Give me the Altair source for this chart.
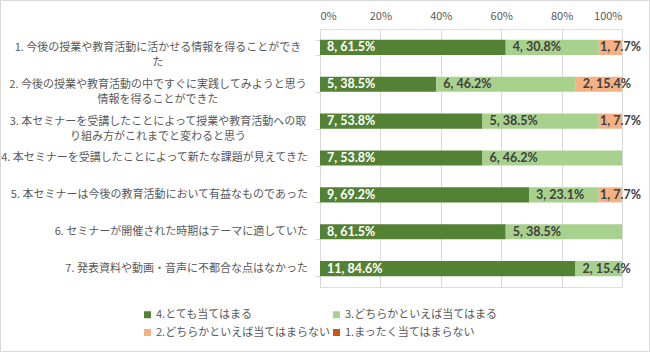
import altair as alt
import pandas as pd

q_ids = ["Q1", "Q2", "Q3", "Q4", "Q5", "Q6", "Q7"]
q_labels = [
    "1. 今後の授業や教育活動に活かせる情報を得ることができ\nた",
    "2. 今後の授業や教育活動の中ですぐに実践してみようと思う\n情報を得ることができた",
    "3. 本セミナーを受講したことによって授業や教育活動への取\nり組み方がこれまでと変わると思う",
    "4. 本セミナーを受講したことによって新たな課題が見えてきた",
    "5. 本セミナーは今後の教育活動において有益なものであった",
    "6. セミナーが開催された時期はテーマに適していた",
    "7. 発表資料や動画・音声に不都合な点はなかった",
]
categories = [
    "4.とても当てはまる",
    "3.どちらかといえば当てはまる",
    "2.どちらかといえば当てはまらない",
    "1.まったく当てはまらない",
]
colors = ["#548235", "#A9D18E", "#F4B183", "#C55A11"]

counts_4 = [8, 5, 7, 7, 9, 8, 11]
counts_3 = [4, 6, 5, 6, 3, 5, 2]
counts_2 = [1, 2, 1, 0, 1, 0, 0]
counts_1 = [0, 0, 0, 0, 0, 0, 0]
pcts_4 = [61.5, 38.5, 53.8, 53.8, 69.2, 61.5, 84.6]
pcts_3 = [30.8, 46.2, 38.5, 46.2, 23.1, 38.5, 15.4]
pcts_2 = [7.7, 15.4, 7.7, 0.0, 7.7, 0.0, 0.0]
pcts_1 = [0.0, 0.0, 0.0, 0.0, 0.0, 0.0, 0.0]

rows = []
for ci, (cat, cs, ps) in enumerate(zip(categories,
                                       [counts_4, counts_3, counts_2, counts_1],
                                       [pcts_4, pcts_3, pcts_2, pcts_1])):
    for qi, q in enumerate(q_ids):
        rows.append({"q": q, "cat": cat, "rank": ci, "n": cs[qi],
                     "pct": ps[qi] / 100.0,
                     "lab": f"{cs[qi]}, {ps[qi]:.1f}%"})
df = pd.DataFrame(rows)
lab_df = pd.DataFrame({"q": q_ids, "label": q_labels,
                       "two": ["\n" in s for s in q_labels]})

W, H = 302, 258

yenc = alt.Y("q:N", sort=q_ids,
             scale=alt.Scale(paddingInner=0.59, paddingOuter=0.295),
             axis=alt.Axis(labels=False, title=None, grid=False,
                           domainColor="#D9D9D9", tickColor="#D9D9D9",
                           tickSize=5, tickBand="extent"))

base = alt.Chart(df).transform_stack(
    stack="pct", groupby=["q"], as_=["x0", "x1"],
    sort=[alt.SortField("rank", order="ascending")]
)

bars = base.mark_bar().encode(
    x=alt.X("x0:Q", scale=alt.Scale(domain=[0, 1]),
            axis=alt.Axis(orient="top", format="%", values=[0, 0.2, 0.4, 0.6, 0.8, 1.0],
                          title=None, domain=False, ticks=False,
                          gridColor="#D9D9D9", labelColor="#595959",
                          labelFontSize=11, labelPadding=8,
                          labelFont="Noto Sans CJK JP")),
    x2="x1:Q",
    y=yenc,
    color=alt.Color("cat:N", sort=categories,
                    scale=alt.Scale(domain=categories, range=colors),
                    legend=alt.Legend(title=None, orient="none",
                                      direction="horizontal",
                                      legendX=-178, legendY=280,
                                      columns=2, columnPadding=0,
                                      symbolType="square", symbolSize=49,
                                      symbolStrokeWidth=0, labelOffset=3,
                                      labelFontSize=11, labelColor="#595959",
                                      labelFont="Noto Sans CJK JP",
                                      rowPadding=6, labelLimit=400)),
)

texts = base.transform_filter("datum.n > 0").transform_calculate(
    lx="min(datum.x0, 0.904)"
).mark_text(align="left", baseline="middle", dx=7, fontWeight="bold",
            font="Lato", fontSize=12.5).encode(
    x="lx:Q",
    y=alt.Y("q:N", sort=q_ids),
    text="lab:N",
    color=alt.condition(alt.datum.rank == 0, alt.value("white"), alt.value("#404040")),
)

lab_one = alt.Chart(lab_df).transform_filter("!datum.two").mark_text(
    align="right", baseline="middle", font="Noto Sans CJK JP", fontSize=11,
    color="#595959").encode(
    x=alt.value(-12), y=alt.Y("q:N", sort=q_ids), text="label:N")

lab_two = alt.Chart(lab_df).transform_filter("datum.two").mark_text(
    align="center", baseline="middle", font="Noto Sans CJK JP", fontSize=11,
    color="#595959", lineBreak="\n", lineHeight=15, dy=1).encode(
    x=alt.value(-162), y=alt.Y("q:N", sort=q_ids), text="label:N")

border = alt.Chart(pd.DataFrame({"a": [0]})).mark_rect(
    fill=None, stroke="#D9D9D9", strokeWidth=1).encode(
    x=alt.value(-319.5), x2=alt.value(329.5), y=alt.value(-28.5), y2=alt.value(322.5))

chart = alt.layer(bars, texts, lab_one, lab_two, border).resolve_scale(
    color="independent"
).properties(
    width=W, height=H,
    autosize=alt.AutoSizeParams(type="none"),
    padding={"left": 320, "top": 29, "right": 28, "bottom": 65},
).configure_view(stroke=None).configure(background="white")

chart.save("out.html", embed_options={"renderer": "svg", "actions": False})
